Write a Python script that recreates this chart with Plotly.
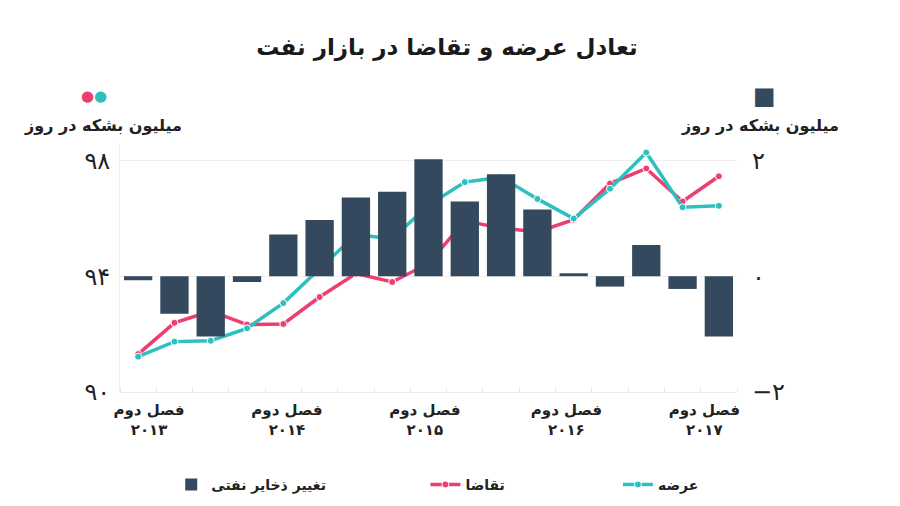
import plotly.graph_objects as go

# quarterly data, Q2 2013 .. Q2 2017
quarters = list(range(17))
stock_change = [-0.07, -0.65, -1.04, -0.10, 0.72, 0.97, 1.36, 1.46, 2.02,
                1.29, 1.76, 1.15, 0.05, -0.18, 0.54, -0.22, -1.04]
demand = [91.31, 92.39, 92.79, 92.33, 92.35, 93.28, 94.09, 93.80, 94.44,
          95.91, 95.66, 95.53, 95.95, 97.20, 97.72, 96.58, 97.45]
supply = [91.22, 91.74, 91.77, 92.20, 93.07, 94.27, 95.44, 95.29, 96.45,
          97.25, 97.42, 96.67, 95.99, 97.02, 98.27, 96.38, 96.43]

year_tick_pos = [0.3, 4.1, 7.9, 11.8, 15.6]
year_tick_text = ["فصل دوم<br>۲۰۱۳", "فصل دوم<br>۲۰۱۴", "فصل دوم<br>۲۰۱۵",
                  "فصل دوم<br>۲۰۱۶", "فصل دوم<br>۲۰۱۷"]
left_ticks = [90, 94, 98]
left_tick_text = ["۹۰", "۹۴", "۹۸"]
right_ticks = [-2, 0, 2]
right_tick_text = ["−۲", "۰", "۲"]

BAR = "#34495e"
PINK = "#ec3e6f"
TEAL = "#2ebfbf"
FONT = "DejaVu Sans"

fig = go.Figure()

fig.add_trace(go.Bar(
    x=quarters, y=stock_change, yaxis="y2", name="<b>تغییر ذخایر نفتی</b>",
    marker=dict(color=BAR, line=dict(width=0)), legend="legend",
))
fig.add_trace(go.Scatter(
    x=quarters, y=demand, name="<b>تقاضا</b>", mode="lines+markers",
    line=dict(color=PINK, width=3.5),
    marker=dict(size=7, color=PINK, line=dict(color="white", width=1)),
    legend="legend2",
))
fig.add_trace(go.Scatter(
    x=quarters, y=supply, name="<b>عرضه</b>", mode="lines+markers",
    line=dict(color=TEAL, width=3.5),
    marker=dict(size=7, color=TEAL, line=dict(color="white", width=1)),
    legend="legend3",
))

legend_style = dict(
    orientation="h", yanchor="middle", y=-0.373, itemwidth=30,
    font=dict(family=FONT, size=14, color="#222"), bgcolor="rgba(0,0,0,0)",
)

# page has an 8px body margin, so the figure is drawn 8px smaller
fig.update_layout(
    width=892, height=498,
    margin=dict(l=112, r=163, t=135, b=114, autoexpand=False),
    paper_bgcolor="white", plot_bgcolor="white",
    font=dict(family=FONT, color="#222"),
    showlegend=True,
    bargap=0.22,
    title=dict(text="<b>تعادل عرضه و تقاضا در بازار نفت</b>",
               x=0.492, xanchor="center", y=0.922, yanchor="middle",
               font=dict(family=FONT, size=23, color="#1a1a1a")),
    xaxis=dict(
        range=[-0.5, 16.5], tickmode="array", tickvals=year_tick_pos,
        ticktext=[f"<b>{t}</b>" for t in year_tick_text], ticks="",
        showgrid=False, showline=True, linecolor="#ececec", linewidth=1,
        tickfont=dict(family=FONT, size=15, color="#222"),
        ticklabelstandoff=4,
        minor=dict(ticks="inside", tick0=0.5, dtick=1, ticklen=4,
                   tickcolor="#e6e6e6", showgrid=False),
        zeroline=False,
    ),
    yaxis=dict(
        range=[90, 98.6], tickmode="array", tickvals=left_ticks,
        ticktext=left_tick_text, showgrid=True, gridcolor="#eeeeee",
        showline=True, linecolor="#ececec", zeroline=False, ticks="",
        ticklabelstandoff=4,
        tickfont=dict(family=FONT, size=24, color="#222"),
    ),
    yaxis2=dict(
        range=[-2, 2.3], overlaying="y", side="right", tickmode="array",
        tickvals=right_ticks, ticktext=right_tick_text, showgrid=False,
        zeroline=False, ticks="", ticklabelstandoff=14,
        tickfont=dict(family=FONT, size=24, color="#222"),
    ),
    legend=dict(x=0.083, xanchor="left", **legend_style),
    legend2=dict(x=0.495, xanchor="left", **legend_style),
    legend3=dict(x=0.807, xanchor="left", **legend_style),
    annotations=[
        dict(text="<b>میلیون بشکه در روز</b>", xref="paper", yref="paper",
             x=-0.028, y=1.072, xanchor="center", yanchor="middle",
             showarrow=False, font=dict(family=FONT, size=16, color="#222")),
        dict(text="<b>میلیون بشکه در روز</b>", xref="paper", yref="paper",
             x=1.037, y=1.072, xanchor="center", yanchor="middle",
             showarrow=False, font=dict(family=FONT, size=16, color="#222")),
        dict(text=f"<span style='color:{PINK}'>●</span><span style='color:{TEAL}'>●</span>",
             xref="paper", yref="paper", x=-0.042, y=1.189,
             xanchor="center", yanchor="middle", showarrow=False,
             font=dict(family=FONT, size=15)),
        dict(text="■", xref="paper", yref="paper", x=1.045, y=1.189,
             xanchor="center", yanchor="middle", showarrow=False,
             font=dict(family=FONT, size=24, color=BAR)),
    ],
)

fig.write_html("out.html")
